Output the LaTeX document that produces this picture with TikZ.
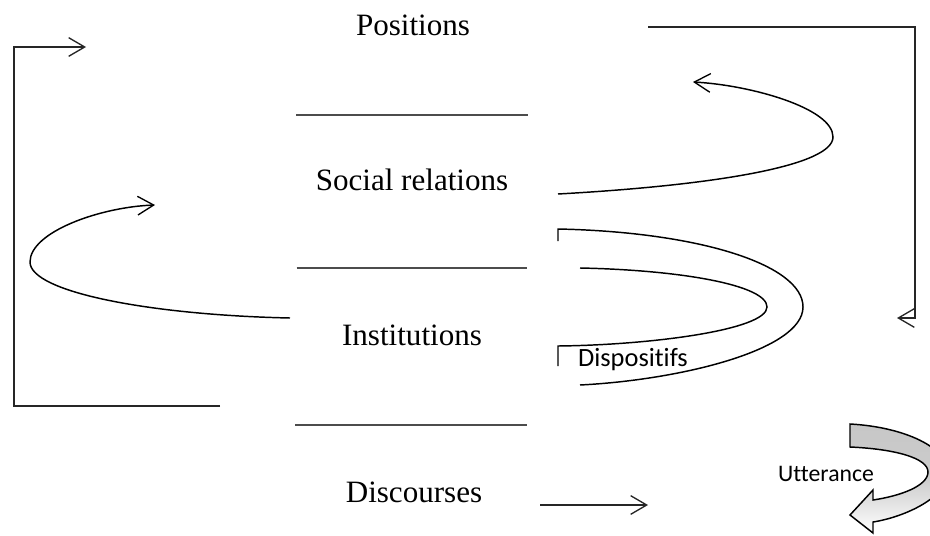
\documentclass[tikz,border=0pt]{standalone}
\usepackage{fontspec}
\setmainfont{Liberation Serif}
\newfontfamily\calib[Ligatures=NoCommon]{Carlito}
\usetikzlibrary{arrows.meta}
\begin{document}
\begin{tikzpicture}[x=0.75pt,y=-0.75pt,
  lbl/.style={inner sep=0pt,font=\fontsize{23.3}{27}\selectfont},
  sans/.style={inner sep=0pt,font=\calib\fontsize{19.8}{23}\selectfont},
  sep/.style={inner sep=0pt},
  conn/.style={line width=1pt,draw=black!85},
  arr/.style={conn,-{Straight Barb[length=12pt,width=14pt,line width=1pt]}},
  curv/.style={line width=1.1pt},
]
\useasboundingbox (0,0) rectangle (930,535);
\clip (0,0) rectangle (930,535);
% texts
\node[lbl] (pos) at (413,25) {Positions};
\node[lbl] (soc) at (412,180) {Social relations};
\node[lbl] (inst) at (412,335) {Institutions};
\node[lbl] (disc) at (414,492) {Discourses};
\node[sans] (dispo) at (633,360) {Dispositifs};
\node[sans,font=\calib\fontsize{17.8}{21}\selectfont] (utt) at (826,474) {Utterance};
% separators
\node[sep] (s1) at (412,115) {\color{black!70}\rule{174pt}{0.9pt}};
\node[sep] (s2) at (412,268) {\color{black!70}\rule{173pt}{0.9pt}};
\node[sep] (s3) at (411,425) {\color{black!70}\rule{174pt}{0.9pt}};
% coordinates
\coordinate (l0) at (220,406);
\coordinate (l1) at (14,406);
\coordinate (l2) at (14,47);
\coordinate (l3) at (86,47);
\coordinate (r0) at (648,27);
\coordinate (r1) at (915,27);
\coordinate (r2) at (915,318);
\coordinate (r3) at (897,318);
\coordinate (d0) at (540,505);
\coordinate (d1) at (648,505);
% brackets
\draw[arr] (l0) -- (l1) -- (l2) -- (l3);
\draw[arr] (r0) -- (r1) -- (r2) -- (r3);
\draw[arr] (d0) -- (d1);
% loops
\draw[curv,-{Straight Barb[length=12pt,width=14pt,line width=1pt]}]
  (558,194) .. controls (720,185) and (833,165) .. (833,137)
  .. controls (833,108) and (750,85) .. (693,82);
\draw[curv,-{Straight Barb[length=12pt,width=14pt,line width=1pt]}]
  (290,318) .. controls (150,315) and (30,292) .. (30,262)
  .. controls (30,232) and (100,207) .. (155,205);
% dispositifs
\draw[curv] (558,241) -- (558,229) .. controls (700,232) and (803,265) .. (803,307)
  .. controls (803,350) and (680,380) .. (580,385);
\draw[curv] (580,268) .. controls (680,270) and (767,285) .. (767,307)
  .. controls (767,330) and (650,345) .. (558,346) -- (558,366);
% utterance arrow
\draw[line width=1.1pt,top color=black!22,bottom color=white,middle color=black!20]
  (850,424) .. controls (905,427) and (948,448) .. (948,472)
  .. controls (948,497) and (905,517) .. (873,522) -- (873,533) -- (850,515) -- (873,490) -- (873,500)
  .. controls (900,496) and (928,486) .. (928,472)
  .. controls (928,458) and (895,449) .. (850,447) -- cycle;
\end{tikzpicture}
\end{document}
